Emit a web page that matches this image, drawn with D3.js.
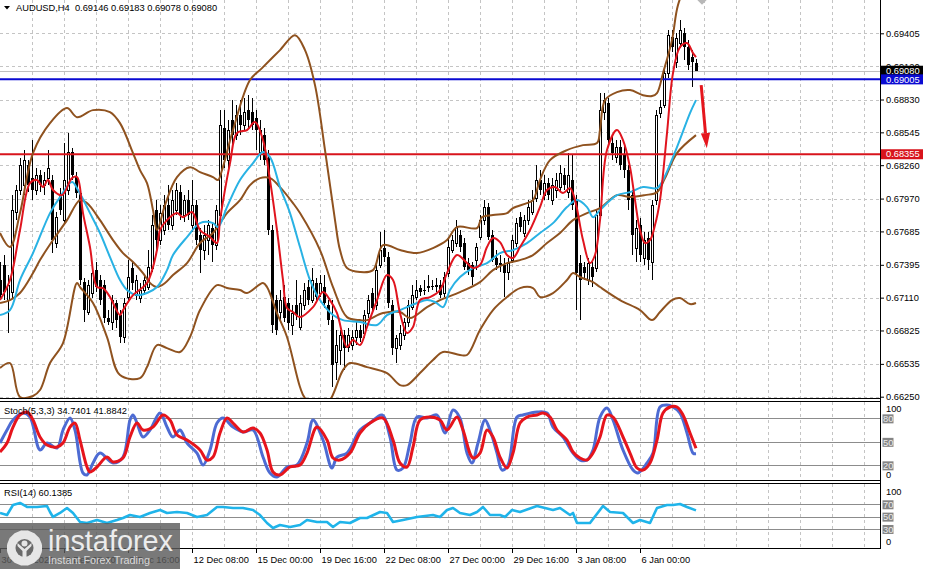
<!DOCTYPE html>
<html><head><meta charset="utf-8">
<script src="https://cdn.jsdelivr.net/npm/d3@7"></script>
<style>
html,body{margin:0;padding:0;background:#fff;}
svg{display:block;font-family:"Liberation Sans",Arial,sans-serif;}
</style></head><body>
<svg id="c" width="927" height="569"></svg>
<script>
// ---------------- DATA ----------------
const symbolTitle = "AUDUSD,H4  0.69146 0.69183 0.69078 0.69080";
const opens = [
0.67263,0.67393,0.67089,0.67158,0.67853,0.68044,0.68087,0.68261,0.68148,0.68044,
0.68174,0.68087,0.68148,0.68131,0.67584,0.68000,0.67783,0.68044,0.68374,0.68157,
0.68018,0.67245,0.66985,0.67150,0.67349,0.67263,0.67219,0.66933,0.66898,0.67063,
0.66959,0.66768,0.67115,0.67367,0.67132,0.67106,0.67176,0.67202,0.67367,0.67870,
0.67610,0.67697,0.67914,0.67740,0.67870,0.68026,0.67827,0.67957,0.67740,0.67914,
0.67653,0.67523,0.67610,0.67714,0.67566,0.67827,0.68582,0.68304,0.68651,0.68521,
0.68695,0.68608,0.68738,0.68721,0.68669,0.68374,0.68521,0.68322,0.67697,0.67089,
0.66985,0.67115,0.67063,0.66872,0.67046,0.66855,0.67046,0.67202,0.67089,0.67237,
0.67150,0.67202,0.67046,0.66915,0.66551,0.66655,0.66785,0.66681,0.66698,0.66768,
0.66829,0.66803,0.66976,0.67150,0.67046,0.67393,0.67540,0.67462,0.67046,0.66672,
0.66698,0.66785,0.66898,0.67028,0.67115,0.67193,0.67176,0.67202,0.67211,0.67211,
0.67219,0.67150,0.67323,0.67523,0.67584,0.67653,0.67584,0.67410,0.67393,0.67436,
0.67636,0.67783,0.67896,0.67653,0.67454,0.67410,0.67393,0.67332,0.67436,0.67584,
0.67809,0.67671,0.67783,0.67853,0.67974,0.68131,0.68000,0.68105,0.67957,0.68044,
0.68070,0.68174,0.68026,0.68131,0.67957,0.67410,0.67375,0.67263,0.67375,0.67367,
0.67827,0.68721,0.68799,0.68452,0.68330,0.68417,0.68348,0.68217,0.68000,0.67540,
0.67740,0.67454,0.67627,0.67419,0.67957,0.68712,0.68782,0.69059,0.69372,0.69155,
0.69320,0.69407,0.69285,0.69198,0.69146];
const highs = [
0.67419,0.67480,0.67306,0.68000,0.68087,0.68322,0.68391,0.68304,0.68478,0.68235,
0.68217,0.68200,0.68391,0.68174,0.67853,0.68061,0.68452,0.68539,0.68408,0.68200,
0.68061,0.67280,0.67263,0.67393,0.67419,0.67306,0.67263,0.67002,0.67132,0.67089,
0.67002,0.67106,0.67436,0.67419,0.67306,0.67237,0.67306,0.67523,0.67827,0.67957,
0.67914,0.68000,0.68087,0.68044,0.68105,0.68087,0.68000,0.68044,0.68131,0.67957,
0.67714,0.67740,0.67783,0.67766,0.67914,0.68738,0.68738,0.68651,0.68825,0.68782,
0.68825,0.68842,0.68868,0.68842,0.68738,0.68651,0.68582,0.68391,0.67740,0.67132,
0.67176,0.67219,0.67106,0.67046,0.67263,0.67132,0.67237,0.67263,0.67367,0.67280,
0.67306,0.67306,0.67089,0.67089,0.66829,0.66829,0.66829,0.66846,0.66829,0.66898,
0.66872,0.67002,0.67132,0.67193,0.67393,0.67679,0.67697,0.67506,0.67089,0.66785,
0.66872,0.66933,0.67089,0.67219,0.67263,0.67219,0.67263,0.67306,0.67263,0.67280,
0.67263,0.67332,0.67636,0.67653,0.67783,0.67697,0.67627,0.67454,0.67419,0.67584,
0.67827,0.67957,0.67931,0.67697,0.67523,0.67480,0.67454,0.67454,0.67653,0.67801,
0.67853,0.67827,0.67957,0.68044,0.68261,0.68217,0.68174,0.68148,0.68148,0.68191,
0.68261,0.68235,0.68365,0.68348,0.68000,0.67480,0.67419,0.67454,0.67419,0.67870,
0.68886,0.68886,0.68842,0.68521,0.68478,0.68478,0.68452,0.68261,0.68044,0.67783,
0.67801,0.67679,0.67679,0.67957,0.68738,0.68825,0.69103,0.69433,0.69433,0.69407,
0.69519,0.69450,0.69346,0.69259,0.69183];
const lows = [
0.67089,0.67089,0.66803,0.67106,0.67783,0.68000,0.68000,0.68026,0.67957,0.68000,
0.68026,0.68000,0.68087,0.67497,0.67540,0.67827,0.67740,0.68000,0.68131,0.67974,
0.67219,0.66898,0.66959,0.67106,0.67158,0.67046,0.66889,0.66872,0.66829,0.66846,
0.66716,0.66716,0.67089,0.67176,0.67089,0.67063,0.67132,0.67176,0.67332,0.67497,
0.67566,0.67653,0.67697,0.67697,0.67827,0.67783,0.67766,0.67783,0.67679,0.67566,
0.67323,0.67436,0.67480,0.67419,0.67523,0.67801,0.68235,0.68217,0.68434,0.68478,
0.68521,0.68565,0.68582,0.68565,0.68391,0.68304,0.68261,0.67653,0.66803,0.66785,
0.66915,0.66898,0.66829,0.66785,0.66915,0.66829,0.67002,0.67046,0.67063,0.67089,
0.67115,0.67020,0.66872,0.66334,0.66395,0.66525,0.66481,0.66638,0.66655,0.66698,
0.66724,0.66759,0.66933,0.66976,0.67002,0.67367,0.67419,0.67020,0.66612,0.66542,
0.66655,0.66742,0.66855,0.67002,0.67089,0.67124,0.67132,0.67158,0.67176,0.67158,
0.67106,0.67115,0.67289,0.67497,0.67549,0.67506,0.67349,0.67306,0.67219,0.67349,
0.67610,0.67740,0.67610,0.67419,0.67349,0.67332,0.67115,0.67263,0.67410,0.67549,
0.67679,0.67636,0.67740,0.67827,0.67940,0.68000,0.67957,0.67957,0.67914,0.67974,
0.68026,0.68044,0.67974,0.67870,0.67002,0.66915,0.67263,0.67219,0.67202,0.67332,
0.67783,0.68651,0.68434,0.68304,0.68278,0.68217,0.68148,0.67870,0.67480,0.67419,
0.67419,0.67393,0.67349,0.67263,0.67914,0.68669,0.68756,0.69016,0.69242,0.69103,
0.69276,0.69172,0.69085,0.68938,0.69078];
const closes = [
0.67132,0.67158,0.67219,0.67870,0.68044,0.68261,0.68304,0.68087,0.68044,0.68174,
0.68087,0.68131,0.68235,0.67610,0.67809,0.67870,0.68131,0.68374,0.68174,0.68018,
0.67263,0.67002,0.67219,0.67323,0.67202,0.67089,0.66933,0.66898,0.67089,0.66915,
0.66768,0.67063,0.67289,0.67237,0.67263,0.67176,0.67263,0.67375,0.67740,0.67610,
0.67844,0.67914,0.67740,0.67957,0.68044,0.67827,0.67957,0.67827,0.67914,0.67610,
0.67523,0.67653,0.67740,0.67566,0.67870,0.68608,0.68304,0.68565,0.68521,0.68695,
0.68608,0.68721,0.68651,0.68608,0.68565,0.68565,0.68304,0.67697,0.66872,0.66829,
0.67089,0.66933,0.66889,0.66976,0.66959,0.67063,0.67176,0.67089,0.67263,0.67115,
0.67237,0.67063,0.66915,0.66525,0.66698,0.66785,0.66672,0.66785,0.66768,0.66829,
0.66759,0.66959,0.67089,0.67020,0.67349,0.67523,0.67462,0.67063,0.66672,0.66759,
0.66803,0.66898,0.67046,0.67132,0.67176,0.67158,0.67167,0.67211,0.67202,0.67219,
0.67132,0.67289,0.67549,0.67610,0.67723,0.67549,0.67375,0.67349,0.67289,0.67549,
0.67783,0.67896,0.67636,0.67436,0.67393,0.67393,0.67323,0.67410,0.67610,0.67757,
0.67723,0.67783,0.67896,0.67957,0.68131,0.68044,0.68105,0.68000,0.68087,0.68131,
0.68191,0.68087,0.68174,0.67914,0.67323,0.67263,0.67323,0.67410,0.67289,0.67827,
0.68738,0.68825,0.68478,0.68365,0.68417,0.68261,0.68217,0.67957,0.67653,0.67714,
0.67480,0.67610,0.67436,0.67914,0.68695,0.68764,0.69059,0.69389,0.69285,0.69363,
0.69433,0.69285,0.69129,0.69155,0.69080];

// indicator readings: [bar index, value]
const bbUpper = [[0,0.67671],[2.5,0.67549],[5,0.67844],[8.25,0.68365],[12.5,0.68625],[16.75,0.68756],[19.25,0.68677],[23.25,0.68738],[27.5,0.68721],[30,0.68625],[33.25,0.68365],[35,0.68217],[36.75,0.68105],[38.25,0.67870],[39.25,0.67697],[41.25,0.67914],[44.25,0.68157],[47.5,0.68243],[50,0.68200],[53.25,0.68157],[54.5,0.68131],[55.5,0.68217],[58.25,0.68565],[62.5,0.68999],[65.5,0.69103],[70,0.69259],[73.75,0.69389],[76.25,0.69259],[78.75,0.68955],[81.25,0.68391],[83.75,0.67783],[85,0.67523],[86.75,0.67367],[90,0.67332],[93.25,0.67349],[95.75,0.67566],[100,0.67523],[104.25,0.67497],[108.25,0.67540],[111.75,0.67610],[114.25,0.67723],[119.25,0.67714],[120.5,0.67809],[123.25,0.67827],[126.75,0.67844],[128.25,0.67888],[131.75,0.67931],[133.25,0.67957],[135,0.68131],[137.5,0.68304],[141.75,0.68391],[145.75,0.68434],[149.25,0.68452],[150,0.68565],[151.25,0.68825],[154.25,0.68894],[157.5,0.68912],[160.75,0.68868],[163,0.68860],[164.25,0.68886],[165.75,0.69059],[168,0.69346],[169.5,0.69650],[172.5,0.69910],[174,0.69997]];
const bbMiddle = [[0,0.67063],[2.5,0.67089],[5,0.67150],[8.25,0.67323],[10,0.67436],[13.25,0.67610],[16.75,0.67783],[20,0.67957],[21.75,0.67931],[25,0.67783],[28.25,0.67610],[30.75,0.67497],[33.25,0.67419],[35.75,0.67323],[37.5,0.67237],[39.25,0.67202],[41.25,0.67237],[43.25,0.67306],[46.75,0.67410],[50,0.67584],[53.25,0.67671],[56.75,0.67844],[60,0.67957],[62.5,0.68087],[65,0.68148],[67.5,0.68148],[70,0.68070],[73.25,0.67931],[75,0.67844],[80,0.67523],[83.25,0.67202],[86.75,0.66941],[90,0.66915],[91.75,0.66915],[95.75,0.66976],[100,0.66985],[102.5,0.66933],[106.75,0.67028],[110,0.67089],[115,0.67158],[120,0.67245],[123.25,0.67349],[126.75,0.67410],[130,0.67436],[133.25,0.67480],[136.75,0.67584],[140,0.67671],[143.25,0.67783],[146.75,0.67844],[150,0.67888],[154.25,0.68000],[157.5,0.67983],[161.25,0.68000],[164.25,0.68026],[166.25,0.68148],[169.25,0.68365],[174,0.68521]];
const bbLower = [[0,0.66499],[2.5,0.66542],[5,0.66247],[8.25,0.66256],[10,0.66308],[12.5,0.66542],[15.75,0.66716],[19.25,0.67237],[20,0.67202],[23.25,0.67063],[26.75,0.66768],[30,0.66438],[35,0.66412],[36.75,0.66507],[39.25,0.66698],[41.75,0.66672],[45,0.66638],[47.5,0.66768],[50,0.67002],[54.25,0.67219],[56.75,0.67193],[60,0.67176],[61.75,0.67150],[65.75,0.67237],[66.75,0.67202],[69.25,0.66976],[71.75,0.66768],[75,0.66334],[76.25,0.66238],[80,0.66152],[82.5,0.66221],[85.75,0.66481],[87.5,0.66542],[91.75,0.66507],[96.75,0.66455],[100,0.66351],[101.75,0.66351],[105,0.66455],[108.25,0.66568],[110.75,0.66638],[115,0.66612],[116.75,0.66612],[120,0.66829],[123.25,0.67002],[126.75,0.67115],[130,0.67193],[133.25,0.67193],[135,0.67115],[138.25,0.67150],[141.75,0.67263],[143.25,0.67323],[145,0.67289],[148.25,0.67245],[150,0.67202],[155,0.67089],[160,0.67002],[163,0.66915],[165,0.66985],[168,0.67089],[170,0.67106],[172.5,0.67054],[174,0.67063]];
const maFast = [[0,0.67089],[2.5,0.67263],[5,0.67697],[7.5,0.68105],[9.25,0.68131],[10.75,0.68070],[12,0.68131],[13.25,0.68044],[15.5,0.68000],[18,0.68148],[19.25,0.68157],[20.75,0.67844],[22.5,0.67549],[24.25,0.67202],[25.75,0.67193],[27.5,0.67115],[30,0.66959],[30.75,0.67002],[33.25,0.67132],[36.75,0.67237],[39.25,0.67523],[40,0.67697],[41.75,0.67783],[44.25,0.67844],[45.75,0.67809],[48,0.67853],[50,0.67697],[52.5,0.67636],[54.25,0.67584],[55,0.67783],[57.5,0.68278],[59.25,0.68539],[61.75,0.68565],[63.75,0.68634],[65.75,0.68478],[67.5,0.68131],[69.25,0.67697],[70.75,0.67263],[71.75,0.67020],[73.25,0.66985],[75,0.66941],[78.25,0.67028],[80.75,0.67158],[82.5,0.67089],[84.25,0.66976],[86.75,0.66681],[88.25,0.66742],[90,0.66698],[91.75,0.66855],[94.25,0.67089],[96.75,0.67306],[98.25,0.67263],[100,0.66976],[101.75,0.66803],[103.25,0.66855],[105,0.67089],[107.5,0.67115],[110,0.67176],[111.75,0.67323],[114.25,0.67480],[116.75,0.67410],[118.25,0.67367],[120,0.67393],[121.75,0.67549],[123.25,0.67627],[125,0.67592],[126.75,0.67480],[128.25,0.67454],[130,0.67549],[132.5,0.67697],[135,0.67896],[136.75,0.68044],[138.75,0.68070],[140.75,0.68018],[142.5,0.68061],[143.75,0.67957],[145.75,0.67610],[147.5,0.67410],[148.75,0.67480],[150,0.67783],[151.75,0.68391],[154.25,0.68565],[155.75,0.68478],[157.5,0.68243],[158.75,0.67957],[160,0.67697],[161.25,0.67584],[162.5,0.67610],[163.75,0.67740],[165,0.67957],[166.75,0.68539],[168.25,0.69059],[170,0.69285],[171.75,0.69320],[173.25,0.69233],[174,0.69198]];
const maSlow = [[0,0.66959],[2.5,0.67002],[5,0.67263],[8.25,0.67497],[12.5,0.67844],[15,0.67983],[18,0.68113],[19.5,0.68044],[22.5,0.67844],[25,0.67671],[27.5,0.67462],[30,0.67263],[31.75,0.67176],[34.25,0.67132],[36.75,0.67150],[39.25,0.67202],[41.75,0.67349],[43.25,0.67480],[46.75,0.67636],[50,0.67757],[53.25,0.67757],[54.5,0.67723],[56.75,0.67896],[60,0.68131],[63.25,0.68278],[65.75,0.68374],[67.5,0.68330],[70,0.68070],[72.5,0.67844],[75,0.67549],[77.5,0.67263],[80,0.67089],[83.25,0.66959],[85.75,0.66915],[90,0.66898],[94.25,0.66872],[96.75,0.66959],[100,0.67002],[104.25,0.67063],[106.75,0.67089],[108.75,0.67072],[110.75,0.67028],[112.5,0.67176],[115,0.67289],[118.25,0.67367],[121.75,0.67410],[125,0.67497],[128.25,0.67523],[131.75,0.67584],[135,0.67671],[138.25,0.67757],[141.75,0.67896],[144.25,0.67957],[146.75,0.67896],[148.25,0.67809],[150,0.67870],[154.25,0.68000],[157.5,0.68026],[160.75,0.68070],[164.25,0.68061],[165.75,0.68131],[169.25,0.68417],[172.5,0.68712],[174,0.68825]];
const stochMain = [[0,48.5],[1.75,65.1],[3.25,77.9],[5.75,86.8],[7.5,81.7],[10,39.6],[11.75,48.5],[14.25,42.1],[15.75,65.1],[17.5,80.4],[18.75,65.1],[20.75,10.2],[21.75,7.7],[23.25,23.0],[25,35.7],[28.25,23.0],[30.75,30.6],[32.5,77.9],[33.25,84.3],[34.25,74.0],[35.75,56.2],[37.5,65.1],[40,86.8],[41.75,68.9],[43.25,56.2],[45,65.1],[46.75,48.5],[49.25,35.7],[50.75,20.4],[52.5,39.6],[54.25,74.0],[55.75,80.4],[58.25,68.9],[60.75,62.6],[63.25,65.1],[65.75,30.6],[67.5,10.2],[69.25,5.1],[71.75,17.9],[74.25,20.4],[76.75,48.5],[78.25,77.9],[80.75,52.3],[83,16.6],[84.25,30.6],[86.75,35.7],[90,65.1],[92.5,74.0],[95.5,84.3],[97.5,56.2],[99.25,14.0],[100.75,16.6],[102.5,48.5],[104.25,81.7],[106.75,80.4],[109.25,84.3],[111.25,61.3],[113.25,90.6],[115,80.4],[116.75,35.7],[118,23.0],[119.5,48.5],[121.25,77.9],[122.5,65.1],[124.25,35.7],[125.5,14.0],[127,20.4],[129.25,81.7],[130.75,84.3],[134.25,88.1],[136.75,86.8],[138.25,68.9],[140.75,56.2],[143.25,35.7],[145,26.8],[146.75,26.8],[148.25,39.6],[150,81.7],[151.75,93.2],[153.25,77.9],[155.75,39.6],[158.25,14.0],[159.5,10.2],[161.75,23.0],[163.25,35.7],[165,94.5],[166.75,97.0],[168.25,94.5],[170,86.8],[171.75,61.3],[173.25,35.7],[174,34.74]];
const stochSignal = [[0,37.0],[1.75,48.5],[3.25,68.9],[5,84.3],[6.75,88.1],[8.25,77.9],[10,56.2],[11.75,46.0],[14.25,43.4],[15.75,48.5],[17.5,68.9],[18.75,74.0],[20,52.3],[21.75,17.9],[22.5,11.5],[24.25,17.9],[26.75,30.6],[28.25,24.3],[30.75,29.4],[32.5,56.2],[34.25,74.0],[35.75,65.1],[38.25,68.9],[40.75,84.3],[42.5,77.9],[44.25,58.7],[46.75,52.3],[50,39.6],[51.75,26.8],[53.25,30.6],[55,61.3],[56.75,80.4],[58.25,74.0],[60.75,62.6],[63.25,67.7],[65,61.3],[66.75,39.6],[68.25,11.5],[70,7.7],[72.5,17.9],[75,20.4],[76.75,35.7],[79.25,68.9],[81.75,52.3],[83.25,29.4],[85,26.8],[87.5,35.7],[90,61.3],[92.5,74.0],[95.75,80.4],[98.25,52.3],[100,23.0],[101.75,17.9],[103.25,43.4],[105,77.9],[107.5,81.7],[110,77.9],[111.75,65.1],[114.25,81.7],[115.75,65.1],[118.25,29.4],[120,35.7],[121.75,65.1],[123.25,56.2],[125,30.6],[126.75,16.6],[128.25,35.7],[130,74.0],[131.75,81.7],[134.25,84.3],[135.75,86.8],[137.5,81.7],[139.25,65.1],[141.75,52.3],[143.25,37.0],[145,29.4],[146.75,26.8],[148.25,35.7],[150,56.2],[151.75,84.3],[153.25,81.7],[155.75,56.2],[157.5,35.7],[159.25,16.6],[160.75,14.0],[162.5,23.0],[164.25,52.3],[165.75,86.8],[167.5,94.5],[169.25,94.5],[170.75,84.3],[172.5,61.3],[174,41.88]];
const rsiValues = [[0,55.9],[1.75,52.6],[3.25,68.8],[5,72.1],[6.75,65.6],[9.25,65.6],[11.75,67.2],[12.5,57.5],[13.25,49.4],[15,55.9],[16.75,64.0],[18.25,55.9],[20,41.3],[21.75,39.7],[24.25,44.5],[26.75,39.7],[29.25,44.5],[30.75,47.8],[32.5,52.6],[35,49.4],[37.5,55.9],[40,60.7],[41.75,55.9],[44.25,57.5],[46.75,55.9],[49.25,49.4],[51.75,52.6],[54.25,65.6],[55.75,65.6],[58.25,64.0],[60.75,64.0],[63.25,60.7],[65,52.6],[66.75,39.7],[68.25,31.6],[70,36.4],[72.5,33.2],[75,36.4],[76.75,44.5],[79.25,41.3],[81.75,41.3],[83.25,33.2],[85,41.3],[87.5,39.7],[90,47.8],[91.75,47.8],[95,57.5],[96.75,55.9],[98.25,41.3],[100.75,44.5],[104.25,49.4],[108.25,52.6],[110,49.4],[111.75,60.7],[113.25,64.0],[115,55.9],[117.5,52.6],[119.25,57.5],[120.75,65.6],[122.5,52.6],[125,52.6],[126.25,49.4],[128,60.7],[130,57.5],[134.25,67.2],[138.25,60.7],[140,64.0],[142.5,52.6],[143.25,55.9],[144.25,39.7],[145.75,39.7],[147.5,39.7],[150.75,67.2],[152.5,57.5],[155.75,55.9],[158.25,39.7],[160,44.5],[162.5,39.7],[164.25,64.0],[166.75,68.8],[168.25,68.8],[170,70.4],[171.75,65.6],[174,60.14]];

const priceTicks = [0.69405,0.69120,0.68830,0.68545,0.68260,0.67970,0.67685,0.67395,0.67110,0.66825,0.66535,0.66250];
const timeTickBars = [0,16,32,48,64,80,96,112,128,144,160];
const timeTickLabels = ["30 Nov 2021","3 Dec 08:00","7 Dec 16:00","12 Dec 08:00","15 Dec 00:00","19 Dec 16:00","22 Dec 08:00","27 Dec 00:00","29 Dec 16:00","3 Jan 08:00","6 Jan 00:00"];
const stochLevels = [20,50,80];
const rsiLevels = [30,50,70];
const hLines = [{price:0.69005,label:"0.69005",color:"#0a0ad2"},{price:0.68355,label:"0.68355",color:"#d8141c"}];
const bidPrice = 0.69080;
const stochTitle = "Stoch(5,3,3) 34.7401 41.8842";
const rsiTitle = "RSI(14) 60.1385";
const arrowFrom = [175.3, 0.68955], arrowTo = [176.7, 0.68408];
const topMarker = [175.5, 0.69693];

// ---------------- SCALES ----------------
const FONT = "Liberation Sans, Arial, sans-serif";
const FS = 9.3;
const svg = d3.select("#c");
const x = d3.scaleLinear().domain([0,220]).range([0,880]);
const y = d3.scaleLinear().domain([0.66250,0.69405]).range([396.7,33.3]);
const ys = d3.scaleLinear().domain([0,100]).range([481,402.7]);
const yr = d3.scaleLinear().domain([0,100]).range([547.5,485.75]);

const defs = svg.append("defs");
function clip(id,x0,y0,w,h){defs.append("clipPath").attr("id",id).append("rect").attr("x",x0).attr("y",y0).attr("width",w).attr("height",h);}
clip("cm",0,0,880,398); clip("cs",0,402,880,78); clip("cr",0,484,880,64);

// ---------------- GRID ----------------
const grid = svg.append("g").attr("shape-rendering","crispEdges");
const vgx = d3.range(8,220,8).map(b=>Math.round(x(b))+0.5);
[[0,398],[402,480],[484,548]].forEach(([a,b])=>{
  grid.append("g").selectAll("line").data(vgx).join("line")
    .attr("x1",d=>d).attr("x2",d=>d).attr("y1",a).attr("y2",b)
    .attr("stroke","#c4c4c4").attr("stroke-dasharray","3,3");
});
grid.append("g").selectAll("line").data(priceTicks).join("line")
  .attr("x1",0).attr("x2",880).attr("y1",d=>Math.round(y(d))+0.5).attr("y2",d=>Math.round(y(d))+0.5)
  .attr("stroke","#c4c4c4").attr("stroke-dasharray","3,3");
grid.append("g").selectAll("line").data(stochLevels).join("line")
  .attr("x1",0).attr("x2",880).attr("y1",d=>Math.round(ys(d))+0.5).attr("y2",d=>Math.round(ys(d))+0.5)
  .attr("stroke","#8c8c8c");
grid.append("g").selectAll("line").data(rsiLevels).join("line")
  .attr("x1",0).attr("x2",880).attr("y1",d=>Math.round(yr(d))+0.5).attr("y2",d=>Math.round(yr(d))+0.5)
  .attr("stroke","#8c8c8c");
// bid line
grid.append("line").attr("x1",0).attr("x2",880).attr("y1",Math.round(y(bidPrice))+0.5).attr("y2",Math.round(y(bidPrice))+0.5).attr("stroke","#c0c0c0");

// ---------------- MAIN PANEL ----------------
const main = svg.append("g").attr("clip-path","url(#cm)");
const bars = d3.range(closes.length).map(i=>({i,o:opens[i],h:highs[i],l:lows[i],c:closes[i]}));
const cg = main.append("g").attr("shape-rendering","crispEdges");
bars.forEach(b=>{
  const cx = Math.round(x(b.i));
  cg.append("line").attr("x1",cx+0.5).attr("x2",cx+0.5).attr("y1",y(b.h)).attr("y2",y(b.l)).attr("stroke","#000");
  const top = y(Math.max(b.o,b.c)), bot = y(Math.min(b.o,b.c));
  const hgt = Math.max(1,bot-top);
  if (b.c >= b.o) {
    cg.append("rect").attr("x",cx-0.5).attr("y",top).attr("width",2).attr("height",hgt).attr("fill","#fff").attr("stroke","#000");
  } else {
    cg.append("rect").attr("x",cx-1).attr("y",top).attr("width",3).attr("height",hgt).attr("fill","#000");
  }
});

// horizontal levels
hLines.forEach(h=>{
  main.append("line").attr("x1",0).attr("x2",880).attr("y1",y(h.price)).attr("y2",y(h.price)).attr("stroke",h.color).attr("stroke-width",2);
});

const lineP = d3.line().x(d=>x(d[0])).y(d=>y(d[1])).curve(d3.curveCatmullRom.alpha(0.5));
const BROWN = "#8f521f";
[bbUpper,bbMiddle,bbLower].forEach(s=>{
  main.append("path").attr("d",lineP(s)).attr("fill","none").attr("stroke",BROWN).attr("stroke-width",2);
});
main.append("path").attr("d",lineP(maSlow)).attr("fill","none").attr("stroke","#29b2e4").attr("stroke-width",2);
main.append("path").attr("d",lineP(maFast)).attr("fill","none").attr("stroke","#e0141e").attr("stroke-width",2);

// arrow
(function(){
  const ax0=x(arrowFrom[0]), ay0=y(arrowFrom[1]), ax1=x(arrowTo[0]), ay1=y(arrowTo[1]);
  const ang=Math.atan2(ay1-ay0,ax1-ax0), hl=15, hw=4.6;
  const bx=ax1-hl*Math.cos(ang), by=ay1-hl*Math.sin(ang);
  main.append("line").attr("x1",ax0).attr("y1",ay0).attr("x2",bx).attr("y2",by).attr("stroke","#e5161d").attr("stroke-width",3);
  main.append("path").attr("d",`M${ax1},${ay1}L${bx+hw*Math.sin(ang)},${by-hw*Math.cos(ang)}L${bx-hw*Math.sin(ang)},${by+hw*Math.cos(ang)}Z`).attr("fill","#e5161d");
  const mx=x(topMarker[0]), my=y(topMarker[1]);
  main.append("path").attr("d",`M${mx-4.5},${my}L${mx},${my+4.5}L${mx+4.5},${my}L${mx},${my-4.5}Z`).attr("fill","#b8b8b8");
})();

// ---------------- STOCH ----------------
const sg = svg.append("g").attr("clip-path","url(#cs)");
const lineS = d3.line().x(d=>x(d[0])).y(d=>ys(d[1])).curve(d3.curveCatmullRom.alpha(0.5));
sg.append("path").attr("d",lineS(stochMain)).attr("fill","none").attr("stroke","#4d6bd3").attr("stroke-width",3);
sg.append("path").attr("d",lineS(stochSignal)).attr("fill","none").attr("stroke","#e6141c").attr("stroke-width",3);

// ---------------- RSI ----------------
const rg = svg.append("g").attr("clip-path","url(#cr)");
const lineR = d3.line().x(d=>x(d[0])).y(d=>yr(d[1]));
rg.append("path").attr("d",lineR(rsiValues)).attr("fill","none").attr("stroke","#1fb4ea").attr("stroke-width",2.6).attr("stroke-linejoin","round");

// ---------------- FRAMES ----------------
const fr = svg.append("g").attr("shape-rendering","crispEdges").attr("stroke","#000");
fr.append("line").attr("x1",880.5).attr("x2",880.5).attr("y1",0).attr("y2",549);
[398.5,401.5,480.5,483.5,548.5].forEach(v=>fr.append("line").attr("x1",0).attr("x2",880.5).attr("y1",v).attr("y2",v));

// ---------------- AXES ----------------
const axR = d3.axisRight(y).tickValues(priceTicks).tickFormat(d3.format(".5f")).tickSize(4).tickPadding(2);
const gA = svg.append("g").attr("transform","translate(880,0)").call(axR);
gA.select(".domain").remove();
gA.attr("font-size",FS).attr("font-family",FONT);
gA.selectAll("text").attr("fill","#000");

const axB = d3.axisBottom(x).tickValues(timeTickBars).tickFormat((d,i)=>timeTickLabels[i]).tickSize(4).tickPadding(3);
const gB = svg.append("g").attr("transform","translate(0,549)").call(axB);
gB.select(".domain").remove();
gB.attr("font-size",FS).attr("font-family",FONT);
gB.selectAll("text").attr("text-anchor","start").attr("x",1).attr("fill","#000");

// price tags
const tags = svg.append("g").attr("font-family",FONT).attr("font-size",FS);
function tag(yc,txt,bg,fg,w,x0){
  tags.append("rect").attr("x",x0).attr("y",yc-5).attr("width",w).attr("height",10).attr("fill",bg);
  tags.append("text").attr("x",x0+(w>20?5:1)).attr("y",yc).attr("dy","0.35em").attr("fill",fg).text(txt);
}
tag(y(bidPrice),d3.format(".5f")(bidPrice),"#000","#fff",42,881);
hLines.forEach(h=>tag(y(h.price),h.label,h.color,"#fff",42,881));

// oscillator scale labels
function plain(yc,txt){tags.append("text").attr("x",886).attr("y",yc).attr("dy","0.35em").attr("fill","#000").text(txt);}
function boxed(yc,txt){
  tags.append("rect").attr("x",882.5).attr("y",yc-4.5).attr("width",11).attr("height",9).attr("fill","#858585");
  tags.append("text").attr("x",883).attr("y",yc).attr("dy","0.35em").attr("fill","#ececec").text(txt);
}
plain(ys(100)+6,"100"); stochLevels.forEach(v=>boxed(ys(v)+0.5,String(v))); plain(ys(0)-6.5,"0");
plain(yr(100)+5.5,"100"); rsiLevels.forEach(v=>boxed(yr(v)+0.5,String(v))); plain(yr(0)-5.5,"0");

// titles
const tt = svg.append("g").attr("font-family",FONT).attr("font-size",FS).attr("fill","#000");
tt.append("path").attr("d","M4,6L10,6L7,9.5Z").attr("fill","#000");
tt.append("text").attr("x",16).attr("y",11).attr("xml:space","preserve").text(symbolTitle);
tt.append("text").attr("x",4).attr("y",414).text(stochTitle);
tt.append("text").attr("x",4).attr("y",496).text(rsiTitle);

// ---------------- WATERMARK ----------------
const wm = svg.append("g");
wm.append("rect").attr("x",0).attr("y",523).attr("width",180).attr("height",46).attr("fill","rgba(92,92,92,0.82)");
const gx=24.5, gy=548;
wm.append("g").selectAll("rect").data(d3.range(8)).join("rect")
  .attr("x",gx-3.5).attr("y",gy-17.5).attr("width",7).attr("height",35).attr("fill","#e6e6e6")
  .attr("transform",d=>`rotate(${d*22.5},${gx},${gy})`);
wm.append("circle").attr("cx",gx).attr("cy",gy).attr("r",14).attr("fill","#e6e6e6");
wm.append("circle").attr("cx",gx).attr("cy",gy).attr("r",9).attr("fill","#6a6a6a");
wm.append("circle").attr("cx",gx).attr("cy",gy-4.5).attr("r",3).attr("fill","#e6e6e6");
wm.append("path").attr("d",`M${gx-7},${gy-5}L${gx},${gy+1}L${gx+7},${gy-5}L${gx+7},${gy-2}L${gx+2},${gy+3}L${gx+2},${gy+10}L${gx-2},${gy+10}L${gx-2},${gy+3}L${gx-7},${gy-2}Z`).attr("fill","#e6e6e6");
wm.append("text").attr("x",48).attr("y",551).attr("font-family",FONT).attr("font-size",30).attr("fill","#ececec").attr("textLength",125).attr("lengthAdjust","spacingAndGlyphs").text("instaforex");
wm.append("text").attr("x",48).attr("y",564).attr("font-family",FONT).attr("font-size",11).attr("fill","#d8d8d8").attr("textLength",102).attr("lengthAdjust","spacingAndGlyphs").text("Instant Forex Trading");
</script>
</body></html>
